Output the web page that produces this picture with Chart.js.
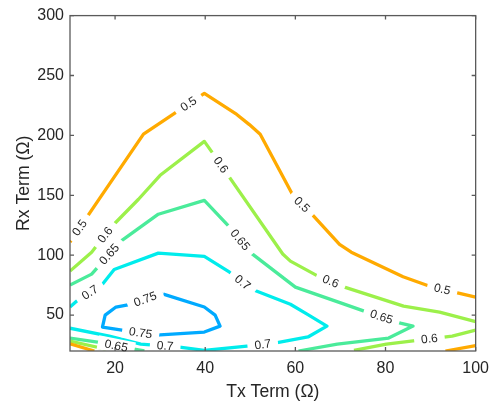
<!DOCTYPE html>
<html>
<head>
<meta charset="utf-8">
<script src="https://cdn.jsdelivr.net/npm/chart.js@4.4.1/dist/chart.umd.min.js"></script>
<style>
  html, body { margin: 0; padding: 0; background: #fff; }
</style>
</head>
<body>
<canvas id="grafico" width="497" height="405"></canvas>
<script>
// contour levels and their colours
var levels = [0.5, 0.6, 0.65, 0.7, 0.75];
var levelColors = ['#FFAA00', '#9CF04A', '#4AEB9A', '#00ECEC', '#00AAFF'];

// contour paths, [Tx, Rx]
var c050a = [[10,111],[16.5,147],[26.3,201],[39.8,235],[47,217.5],[49.8,209],[52.2,201],[59.6,149],[63.7,134],[69.8,109],[72.4,102.5],[83.9,82],[89.8,74],[100,65]];
var c050b = [[10,26],[15.4,20]];
var c050c = [[93.3,20],[100,24.5]];
var c060a = [[10,86.7],[14.8,102.5],[19.1,123.3],[25.2,146.7],[30,166.7],[39.8,195],[41.5,186],[57.2,101],[58.9,95],[65,82.5],[70.9,73.3],[84,57.5],[92,52.5],[100,44.5]];
var c060b = [[10,28.3],[19.8,20]];
var c060c = [[73,20.5],[80.2,25.8],[94.8,32.5],[100,37.5]];
var c065a = [[10,75],[14.8,84.2],[21.3,111.7],[29.6,134.2],[39.8,145.8],[45.2,124.2],[50.2,101.7],[60,73.3],[70.2,60],[75.9,52.5],[83.3,43.3],[86.1,40.8],[80.7,30.8],[69.3,25.8],[60.7,20]];
var c065b = [[10,30.8],[16.1,27.5],[23.9,21.7],[26.5,20]];
var c070 = [[10,56.7],[11.5,61.7],[17.2,75.8],[19.8,88],[29.6,101.7],[39.8,99],[45.4,85.8],[50.2,71.7],[58.9,59],[62.6,50.8],[67,40.8],[62.8,31.7],[55.7,26.7],[49.8,24.2],[39.8,20.5],[34.3,23.3],[25.7,25.8],[18.7,32.5],[10,39]];
var c075 = [[30.7,67.5],[39.8,56.7],[42.2,50],[43.3,40.8],[39.8,35.8],[29.1,33.3],[22.6,36.7],[17.2,40],[17.8,50],[20.2,56.7],[23.7,59.2],[26.7,63.3],[30.7,67.5]];

var paths = [c050a, c050b, c050c, c060a, c060b, c060c, c065a, c065b, c070, c075];
var pathLevels = [0.5, 0.5, 0.5, 0.6, 0.6, 0.6, 0.65, 0.65, 0.7, 0.75];

// inline contour labels
var labelLevel = [0.5, 0.5, 0.5, 0.5, 0.6, 0.6, 0.6, 0.6, 0.65, 0.65, 0.65, 0.65, 0.7, 0.7, 0.7, 0.7, 0.75, 0.75];
var labelTx = [12.6, 36.7, 61.1, 92.6, 17.6, 43, 67.6, 89.8, 18.7, 47.4, 79.1, 20.2, 14.8, 48, 52.8, 31.1, 26.7, 25.7];
var labelRx = [121.7, 224, 140.8, 71.7, 117.5, 174, 75.8, 28.3, 100.8, 111.7, 48.3, 23.3, 66.7, 75.8, 24.2, 23.3, 63.3, 35.8];

var xTicks = [20, 40, 60, 80, 100];
var yTicks = [50, 100, 150, 200, 250, 300];

var labelFont = '12px "Liberation Sans", Arial, sans-serif';

function colorFor(level) {
  return levelColors[levels.indexOf(level)];
}

// busca el segmento más cercano de la curva del mismo nivel
function placeLabels(chart) {
  var xs = chart.scales.x, ys = chart.scales.y;
  var out = [];
  for (var i = 0; i < labelLevel.length; i++) {
    var px = xs.getPixelForValue(labelTx[i]);
    var py = ys.getPixelForValue(labelRx[i]);
    var best = null;
    chart.data.datasets.forEach(function(ds, di) {
      if (ds.level !== labelLevel[i]) return;
      var pts = chart.getDatasetMeta(di).data;
      for (var k = 0; k < pts.length - 1; k++) {
        var ax = pts[k].x, ay = pts[k].y, bx = pts[k + 1].x, by = pts[k + 1].y;
        var dx = bx - ax, dy = by - ay;
        var len2 = dx * dx + dy * dy || 1;
        var t = ((px - ax) * dx + (py - ay) * dy) / len2;
        t = Math.max(0, Math.min(1, t));
        var qx = ax + t * dx, qy = ay + t * dy;
        var d = (qx - px) * (qx - px) + (qy - py) * (qy - py);
        if (!best || d < best.d) best = {d: d, x: qx, y: qy, a: Math.atan2(dy, dx)};
      }
    });
    var a = best.a;
    if (a > Math.PI / 2) a -= Math.PI;
    if (a < -Math.PI / 2) a += Math.PI;
    var txt = String(labelLevel[i]);
    out.push({x: best.x, y: best.y, a: a, text: txt, w: chart.ctx.measureText(txt).width});
  }
  return out;
}

var contourLabels = {
  id: 'contourLabels',
  beforeDatasetsDraw: function(chart) {
    var ctx = chart.ctx;
    ctx.font = labelFont;
    var placed = placeLabels(chart);
    chart.$contourLabels = placed;
    ctx.save();
    ctx.beginPath();
    ctx.rect(0, 0, chart.width, chart.height);
    placed.forEach(function(p) {
      var hw = p.w / 2 + 7, hh = 7;
      var c = Math.cos(p.a), s = Math.sin(p.a);
      var corners = [[-hw, -hh], [hw, -hh], [hw, hh], [-hw, hh]];
      corners.forEach(function(q, j) {
        var cx = p.x + q[0] * c - q[1] * s;
        var cy = p.y + q[0] * s + q[1] * c;
        if (j === 0) ctx.moveTo(cx, cy); else ctx.lineTo(cx, cy);
      });
      ctx.closePath();
    });
    ctx.clip('evenodd');
  },
  afterDatasetsDraw: function(chart) {
    var ctx = chart.ctx;
    ctx.restore();
    var area = chart.chartArea;
    var xs = chart.scales.x, ys = chart.scales.y;

    // marco y marcas hacia adentro
    ctx.save();
    ctx.strokeStyle = '#5a5a5a';
    ctx.lineWidth = 1.3;
    ctx.strokeRect(area.left, area.top, area.right - area.left, area.bottom - area.top);
    ctx.beginPath();
    xTicks.forEach(function(v) {
      var x = xs.getPixelForValue(v);
      ctx.moveTo(x, area.bottom); ctx.lineTo(x, area.bottom - 4);
      ctx.moveTo(x, area.top); ctx.lineTo(x, area.top + 4);
    });
    yTicks.forEach(function(v) {
      var y = ys.getPixelForValue(v);
      ctx.moveTo(area.left, y); ctx.lineTo(area.left + 4, y);
      ctx.moveTo(area.right, y); ctx.lineTo(area.right - 4, y);
    });
    ctx.stroke();
    ctx.restore();

    // etiquetas de nivel
    ctx.save();
    ctx.font = labelFont;
    ctx.fillStyle = '#262626';
    ctx.textAlign = 'center';
    ctx.textBaseline = 'middle';
    chart.$contourLabels.forEach(function(p) {
      ctx.save();
      ctx.translate(p.x, p.y);
      ctx.rotate(p.a);
      ctx.fillText(p.text, 0, 0.5);
      ctx.restore();
    });
    ctx.restore();
  }
};

var datasets = paths.map(function(path, i) {
  return {
    level: pathLevels[i],
    data: path.map(function(p) { return {x: p[0], y: p[1]}; }),
    borderColor: colorFor(pathLevels[i]),
    borderWidth: 3.3,
    borderJoinStyle: 'round',
    pointRadius: 0,
    tension: 0,
    fill: false
  };
});

var tickFont = {family: '"Liberation Sans", Arial, sans-serif', size: 16};
var titleFont = {family: '"Liberation Sans", Arial, sans-serif', size: 17.6};

new Chart(document.getElementById('grafico').getContext('2d'), {
  type: 'scatter',
  data: {datasets: datasets},
  options: {
    responsive: false,
    animation: false,
    devicePixelRatio: 1,
    showLine: true,
    layout: {padding: {left: 0, right: 16, top: 15, bottom: 0}},
    plugins: {
      legend: {display: false},
      tooltip: {enabled: false}
    },
    scales: {
      x: {
        type: 'linear',
        min: 10,
        max: 100,
        afterBuildTicks: function(scale) { scale.ticks = xTicks.map(function(v) { return {value: v}; }); },
        afterFit: function(scale) { scale.height = 54; },
        grid: {display: false, drawTicks: false},
        border: {display: false},
        ticks: {color: '#262626', font: tickFont, padding: 8, maxRotation: 0},
        title: {display: true, text: 'Tx Term (Ω)', color: '#262626', font: titleFont, padding: {top: 0, bottom: 2}}
      },
      y: {
        type: 'linear',
        min: 20,
        max: 300,
        afterBuildTicks: function(scale) { scale.ticks = yTicks.map(function(v) { return {value: v}; }); },
        afterFit: function(scale) { scale.width = 70; },
        grid: {display: false, drawTicks: false},
        border: {display: false},
        ticks: {color: '#262626', font: tickFont, padding: 6},
        title: {display: true, text: 'Rx Term (Ω)', color: '#262626', font: titleFont, padding: {top: 14, bottom: 0}}
      }
    }
  },
  plugins: [contourLabels]
});
</script>
</body>
</html>
